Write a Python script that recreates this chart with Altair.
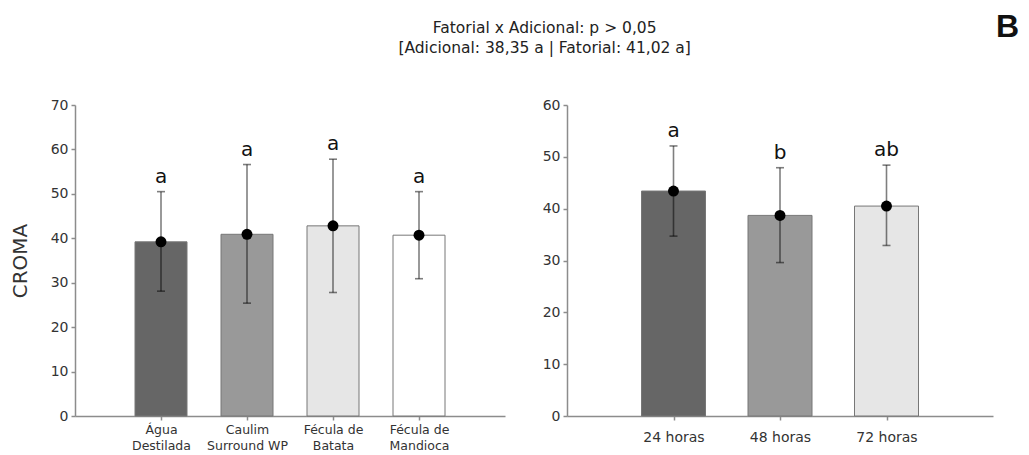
import altair as alt
import pandas as pd

# ---- data ----
treat_labels = ["Água\nDestilada", "Caulim\nSurround WP", "Fécula de\nBatata", "Fécula de\nMandioca"]
treat_mean = [39.2, 40.9, 42.8, 40.7]
treat_hi = [50.5, 56.6, 57.8, 50.5]
treat_lo = [28.1, 25.4, 27.8, 30.9]
treat_letter = ["a", "a", "a", "a"]
treat_colors = ["#666666", "#999999", "#e6e6e6", "#ffffff"]

time_labels = ["24 horas", "48 horas", "72 horas"]
time_mean = [43.4, 38.7, 40.5]
time_hi = [52.1, 47.9, 48.4]
time_lo = [34.7, 29.6, 32.9]
time_letter = ["a", "b", "ab"]
time_colors = ["#666666", "#999999", "#e6e6e6"]

title_lines = ["Fatorial x Adicional: p > 0,05", "[Adicional: 38,35 a | Fatorial: 41,02 a]"]
panel_tag = ["B"]
y_title = "CROMA"

FONT = "DejaVu Sans"


def panel(labels, mean, hi, lo, letters, colors, ymax, width, barw, ytitle,
          xlabel_size, xlabel_pad, tag_opacity):
    df = pd.DataFrame({"cat": labels, "mean": mean, "hi": hi, "lo": lo, "letter": letters})
    xenc = alt.X(
        "cat:N", sort=labels,
        scale=alt.Scale(type="point", padding=1),
        axis=alt.Axis(title=None, labelAngle=0, labelFontSize=xlabel_size,
                      labelPadding=xlabel_pad, labelLineHeight=16,
                      labelExpr="split(datum.label, '\\n')"),
    )
    yscale = alt.Scale(domain=[0, ymax], nice=False, zero=True)
    yaxis = alt.Axis(title=ytitle if ytitle else "", tickCount=ymax // 10 + 1,
                     titleFontSize=20, titleFont=FONT, titleFontWeight="normal",
                     titleColor="#333333", titlePadding=20)

    def Y(field):
        return alt.Y(field, scale=yscale, axis=yaxis)

    base = alt.Chart(df).encode(x=xenc)
    bars = base.mark_bar(width=barw, stroke="#777777", strokeWidth=1).encode(
        y=Y("mean:Q"),
        color=alt.Color("cat:N", scale=alt.Scale(domain=labels, range=colors), legend=None),
    )
    rules = base.mark_rule(color="black", opacity=0.5, strokeWidth=1.6).encode(
        y=Y("lo:Q"), y2="hi:Q")
    cap_hi = base.mark_tick(color="black", opacity=0.5, size=8, thickness=1.6).encode(y=Y("hi:Q"))
    cap_lo = base.mark_tick(color="black", opacity=0.5, size=8, thickness=1.6).encode(y=Y("lo:Q"))
    dots = base.mark_circle(size=120, color="black", opacity=1).encode(y=Y("mean:Q"))
    text = base.mark_text(baseline="bottom", dy=-5, fontSize=20, font=FONT, color="#111111").encode(
        y=Y("hi:Q"), text="letter:N")
    tdf = pd.DataFrame({"t": panel_tag})
    tag = alt.Chart(tdf).mark_text(align="left", baseline="middle", fontSize=32,
                                   fontWeight="bold", font="Liberation Sans", color="#111111",
                                   opacity=tag_opacity).encode(
        x=alt.value(429 if tag_opacity else 0), y=alt.value(-78), text="t:N")
    return alt.layer(bars, rules, cap_hi, cap_lo, dots, text, tag).properties(width=width, height=311)


left = panel(treat_labels, treat_mean, treat_hi, treat_lo, treat_letter, treat_colors,
             70, 430, 52, y_title, 12.5, 3, 0)
right = panel(time_labels, time_mean, time_hi, time_lo, time_letter, time_colors,
              60, 426, 64, None, 14, 10, 1)

chart = alt.hconcat(left, right, spacing=37).properties(
    title=alt.TitleParams(text=title_lines, anchor="middle", fontSize=15.5, font=FONT,
                          fontWeight="normal", color="#222222", offset=-45, dx=30,
                          lineHeight=20),
    padding={"left": 2, "top": 3, "right": 0, "bottom": 0},
).configure_view(stroke=None).configure_axis(
    grid=False, domainColor="#8c8c8c", domainWidth=1.5, tickColor="#8c8c8c",
    tickWidth=1.5, tickSize=4, labelColor="#333333", labelFont=FONT, labelFontSize=14,
    labelPadding=3,
)

chart.save("out.html", embed_options={"renderer": "svg", "actions": False})
